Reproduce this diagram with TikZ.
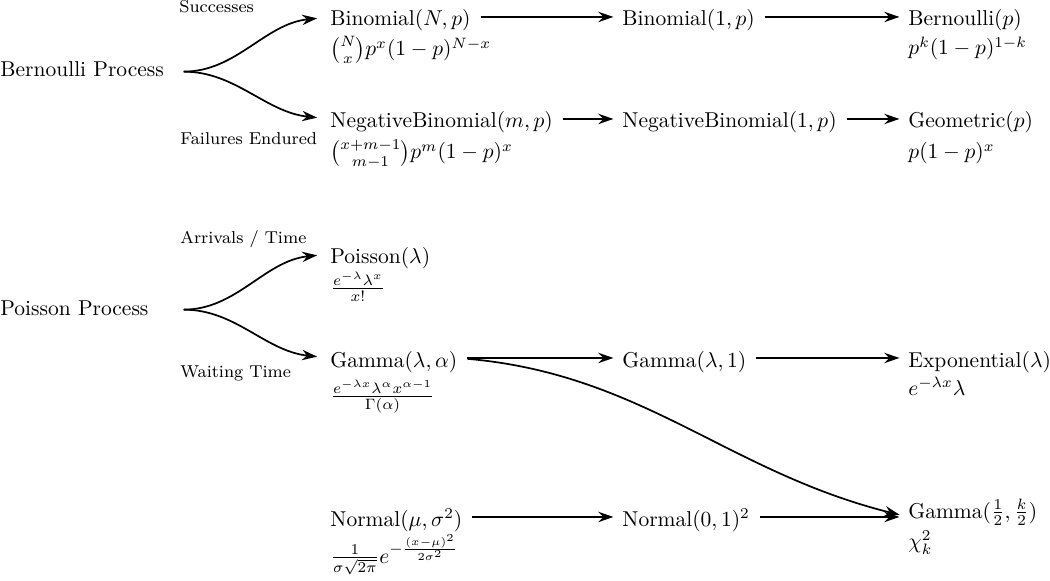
\documentclass[tikz,border=0pt]{standalone}
\usepackage{amsmath}
\usetikzlibrary{arrows.meta}

\begin{document}
\begin{tikzpicture}[x=0.4651pt, y=0.4651pt, >={Stealth[length=7pt, width=4.8pt]}]
    \tikzstyle{proc} = [anchor=base west, inner sep=0pt, text width=79pt, text height=5pt, text depth=0pt]
    \tikzstyle{dist} = [anchor=base west, inner sep=0pt, text height=8.4pt, text depth=0pt]
    \tikzstyle{pdf} = [anchor=base west, inner sep=0pt]
    \tikzstyle{lbl} = [anchor=base west, inner sep=0pt, font=\footnotesize]
    \tikzstyle{branch} = [->, thick, shorten <=6pt, shorten >=6pt]
    \tikzstyle{link} = [->, thick, shorten <=4.5pt, shorten >=4pt]

    \useasboundingbox (0,0) rectangle (1050,-580);

    % Bernoulli process
    \node [proc] (bernproc) at (0,-77) {Bernoulli Process};
    \node [lbl] (succ) at (179,-13) {Successes};
    \node [lbl] (fail) at (180,-145) {Failures Endured};

    \node [dist] (binom) at (330,-26) {Binomial$(N,p)$};
    \node [pdf] (binompdf) at (330,-56) {$\binom{N}{x}p^x(1-p)^{N-x}$};
    \node [dist] (binom1) at (622,-26) {Binomial$(1,p)$};
    \node [dist] (bern) at (908,-26) {Bernoulli$(p)$};
    \node [pdf] (bernpdf) at (908,-55) {$p^k(1-p)^{1-k}$};

    \node [dist] (negbin) at (330,-128) {NegativeBinomial$(m,p)$};
    \node [pdf] (negbinpdf) at (330,-159) {$\binom{x+m-1}{m-1}p^m(1-p)^x$};
    \node [dist] (negbin1) at (622,-128) {NegativeBinomial$(1,p)$};
    \node [dist] (geom) at (908,-128) {Geometric$(p)$};
    \node [pdf] (geompdf) at (908,-159) {$p(1-p)^x$};

    % Poisson process
    \node [proc] (poisproc) at (0,-315) {Poisson Process};
    \node [lbl] (arriv) at (180,-243) {Arrivals / Time};
    \node [lbl] (wait) at (180,-377) {Waiting Time};

    \node [dist] (pois) at (330,-263) {Poisson$(\lambda)$};
    \node [pdf] (poispdf) at (330,-294) {$\frac{e^{-\lambda}\lambda^x}{x!}$};

    \node [dist] (gamma) at (330,-367) {Gamma$(\lambda,\alpha)$};
    \node [pdf] (gammapdf) at (330,-402) {$\frac{e^{-\lambda x}\lambda^\alpha x^{\alpha-1}}{\Gamma(\alpha)}$};
    \node [dist] (gamma1) at (622,-367) {Gamma$(\lambda,1)$};
    \node [dist] (expo) at (908,-367) {Exponential$(\lambda)$};
    \node [pdf] (expopdf) at (908,-395) {$e^{-\lambda x}\lambda$};

    % Normal
    \node [dist] (normal) at (330,-526) {Normal$(\mu,\sigma^2)$};
    \node [pdf] (normalpdf) at (330,-563) {$\frac{1}{\sigma\sqrt{2\pi}}e^{-\frac{(x-\mu)^2}{2\sigma^2}}$};
    \node [dist] (stdnorm) at (622,-526) {Normal$(0,1)^2$};
    \node [dist] (chisq) at (908,-518) {Gamma$(\frac{1}{2},\frac{k}{2})$};
    \node [pdf] (chisqpdf) at (908,-548) {$\chi^2_k$};

    % Branches
    \draw [branch] (bernproc.east) to[out=0, in=186] (binom.west);
    \draw [branch] (bernproc.east) to[out=0, in=174] (negbin.west);
    \draw [branch] (poisproc.east) to[out=0, in=186] (pois.west);
    \draw [branch] (poisproc.east) to[out=0, in=174] (gamma.west);

    % Connections
    \draw [link] (binom) -- (binom1);
    \draw [link] (binom1) -- (bern);
    \draw [link] (negbin) -- (negbin1);
    \draw [link] (negbin1) -- (geom);
    \draw [link] (gamma) -- (gamma1);
    \draw [link] (gamma1) -- (expo);
    \draw [link] (normal) -- (stdnorm);
    \draw [link] (stdnorm.east) -- (stdnorm.east -| chisq.west);
    \draw [link] (gamma.east) to[out=-5, in=166] (stdnorm.east -| chisq.west);
\end{tikzpicture}
\end{document}
